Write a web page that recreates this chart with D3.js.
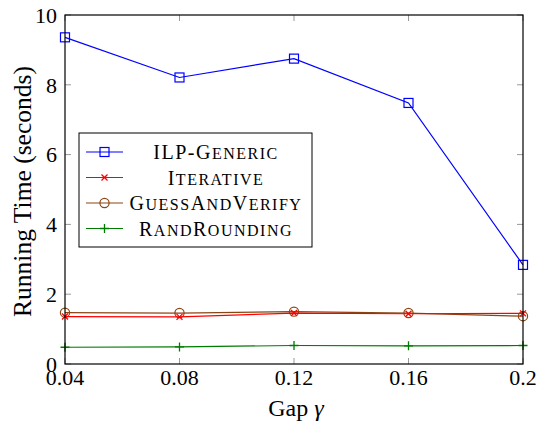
<!DOCTYPE html>
<html>
<head>
<meta charset="utf-8">
<script src="https://cdn.jsdelivr.net/npm/d3@7"></script>
<style>
  body { margin: 0; background: #fff; }
  svg text { font-family: "Liberation Serif", "Times New Roman", serif; }
</style>
</head>
<body>
<svg id="plot"></svg>
<script>
// Data
var gaps = [0.04, 0.08, 0.12, 0.16, 0.2];
var xTickLabels = ["0.04", "0.08", "0.12", "0.16", "0.2"];
var yTicks = [0, 2, 4, 6, 8, 10];
var ilpGeneric = [9.36, 8.21, 8.75, 7.48, 2.84];
var iterative = [1.36, 1.35, 1.46, 1.44, 1.45];
var guessAndVerify = [1.47, 1.46, 1.50, 1.46, 1.37];
var randRounding = [0.48, 0.49, 0.53, 0.52, 0.53];

var seriesNames = ["ILP-Generic", "Iterative", "GuessAndVerify", "RandRounding"];
var seriesColors = ["#0000ff", "#ff0000", "#8b4513", "#007a00"];
var seriesMarks = ["square", "cross", "circle", "plus"];
var seriesValues = [ilpGeneric, iterative, guessAndVerify, randRounding];

var W = 544, H = 425;
var margin = { top: 15, right: 21, bottom: 61, left: 65 };
var width = W - margin.left - margin.right;
var height = H - margin.top - margin.bottom;

var svg = d3.select("#plot").attr("width", W).attr("height", H);
var g = svg.append("g").attr("transform", "translate(" + margin.left + "," + margin.top + ")");

var x = d3.scaleLinear().domain([0.04, 0.2]).range([0, width]);
var y = d3.scaleLinear().domain([0, 10]).range([height, 0]);

// inward grey ticks on all four sides
var tickLen = 6;
g.selectAll(".ytl").data(yTicks).enter().append("line")
  .attr("x1", 0).attr("x2", tickLen).attr("y1", d => y(d)).attr("y2", d => y(d))
  .attr("stroke", "#999").attr("stroke-width", 1);
g.selectAll(".ytr").data(yTicks).enter().append("line")
  .attr("x1", width).attr("x2", width - tickLen).attr("y1", d => y(d)).attr("y2", d => y(d))
  .attr("stroke", "#999").attr("stroke-width", 1);
g.selectAll(".xtb").data(gaps).enter().append("line")
  .attr("x1", d => x(d)).attr("x2", d => x(d)).attr("y1", height).attr("y2", height - tickLen)
  .attr("stroke", "#999").attr("stroke-width", 1);
g.selectAll(".xtt").data(gaps).enter().append("line")
  .attr("x1", d => x(d)).attr("x2", d => x(d)).attr("y1", 0).attr("y2", tickLen)
  .attr("stroke", "#999").attr("stroke-width", 1);

// tick labels
g.selectAll(".ylab").data(yTicks).enter().append("text")
  .attr("x", -8).attr("y", d => y(d)).attr("dy", "0.35em")
  .attr("text-anchor", "end").style("font-size", "22px")
  .text(d => d);
g.selectAll(".xlab").data(gaps).enter().append("text")
  .attr("x", d => x(d)).attr("y", height + 21)
  .attr("text-anchor", "middle").style("font-size", "22px")
  .text((d, i) => xTickLabels[i]);

// axis titles
var xt = g.append("text")
  .attr("x", width / 2 + 2).attr("y", height + 52)
  .attr("text-anchor", "middle").style("font-size", "24px");
xt.append("tspan").text("Gap");
xt.append("tspan").attr("dx", 6).style("font-style", "italic").text("γ");
g.append("text")
  .attr("transform", "translate(" + (22 - margin.left) + "," + (y(5) + 2) + ") rotate(-90)")
  .attr("text-anchor", "middle").attr("dy", "0.35em")
  .style("font-size", "25.5px")
  .text("Running Time (seconds)");

function drawMark(sel, type, color) {
  if (type === "square") {
    sel.append("rect").attr("x", -4.5).attr("y", -4.5).attr("width", 9).attr("height", 9)
      .attr("fill", "none").attr("stroke", color).attr("stroke-width", 1.2);
  } else if (type === "circle") {
    sel.append("circle").attr("r", 4.6)
      .attr("fill", "none").attr("stroke", color).attr("stroke-width", 1.2);
  } else if (type === "cross") {
    sel.append("path").attr("d", "M-3,-3L3,3M-3,3L3,-3")
      .attr("stroke", color).attr("stroke-width", 1.3);
  } else {
    sel.append("path").attr("d", "M-4.5,0L4.5,0M0,-4.5L0,4.5")
      .attr("stroke", color).attr("stroke-width", 1.3);
  }
}

var line = d3.line().x((d, i) => x(gaps[i])).y(d => y(d));

// draw series from bottom of legend order up so ILP is on top
for (var s = seriesValues.length - 1; s >= 0; s--) {
  var vals = seriesValues[s];
  g.append("path").datum(vals)
    .attr("d", line).attr("fill", "none")
    .attr("stroke", seriesColors[s]).attr("stroke-width", 1.2);
  var marks = g.selectAll(".m" + s).data(vals).enter().append("g")
    .attr("transform", (d, i) => "translate(" + x(gaps[i]) + "," + y(d) + ")");
  drawMark(marks, seriesMarks[s], seriesColors[s]);
}

// frame
g.append("rect").attr("width", width).attr("height", height)
  .attr("fill", "none").attr("stroke", "#000").attr("stroke-width", 1.2);

// small caps by hand: lowercase runs become smaller capitals
function smallCaps(textSel, str, size) {
  var runs = str.match(/[a-z]+|[^a-z]+/g);
  runs.forEach(function(r) {
    var lower = /[a-z]/.test(r[0]);
    textSel.append("tspan")
      .style("font-size", (lower ? size * 0.8 : size) + "px")
      .text(r.toUpperCase());
  });
}

// legend
var legend = g.append("g").attr("transform", "translate(" + (79 - margin.left) + "," + (133 - margin.top) + ")");
legend.append("rect").attr("width", 233).attr("height", 114)
  .attr("fill", "#fff").attr("stroke", "#000").attr("stroke-width", 1);
seriesNames.forEach(function(name, i) {
  var row = legend.append("g").attr("transform", "translate(0," + (19 + i * 25.5) + ")");
  row.append("line").attr("x1", 7).attr("x2", 44).attr("y1", 0).attr("y2", 0)
    .attr("stroke", seriesColors[i]).attr("stroke-width", 1.2);
  var m = row.append("g").attr("transform", "translate(25.5,0)");
  drawMark(m, seriesMarks[i], seriesColors[i]);
  var t = row.append("text").attr("x", 137).attr("y", 7)
    .attr("text-anchor", "middle")
    .style("font-size", "20px").style("letter-spacing", "1.5px");
  smallCaps(t, name, 20);
});
</script>
</body>
</html>
